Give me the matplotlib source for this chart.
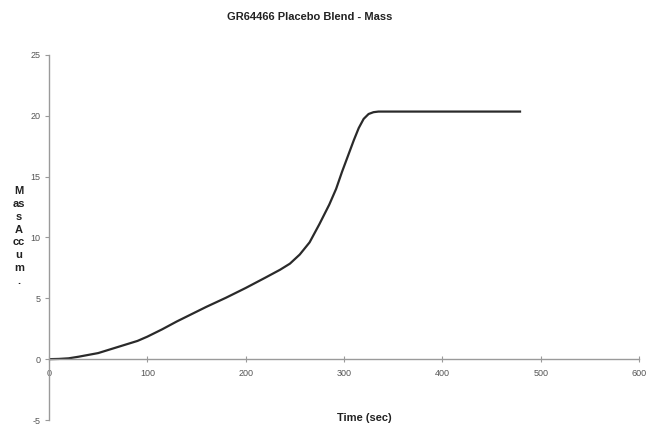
import matplotlib
matplotlib.use("Agg")
import matplotlib.pyplot as plt

# Data
time_sec = [0, 10, 20, 30, 40, 50, 60, 70, 80, 90, 100, 115, 130, 145, 160, 180, 200, 220, 235,
            245, 255, 265, 275, 285, 292, 298, 304, 310, 315, 320, 325, 330, 335, 340, 400, 479]
mass_accum = [0, 0.02, 0.07, 0.2, 0.35, 0.5, 0.75, 1.0, 1.25, 1.5, 1.85, 2.45, 3.1, 3.7, 4.3, 5.05, 5.85, 6.7, 7.35,
              7.85, 8.6, 9.6, 11.1, 12.7, 14.0, 15.4, 16.7, 18.0, 19.0, 19.75, 20.15, 20.3, 20.35, 20.35, 20.35, 20.35]
x_ticks = [0, 100, 200, 300, 400, 500, 600]
y_ticks = [-5, 0, 5, 10, 15, 20, 25]
title = "GR64466 Placebo Blend - Mass"
x_label = "Time (sec)"
y_label = "M\nas\ns\nA\ncc\nu\nm\n."

plt.rcParams['font.family'] = ['Liberation Sans', 'DejaVu Sans']
plt.rcParams['axes.unicode_minus'] = False

fig = plt.figure(figsize=(6.63, 4.30), dpi=100)
ax = fig.add_axes([49/663, 1-420/430, (639-49)/663, (420-55)/430])

ax.plot(time_sec, mass_accum, color='#2a2a2a', linewidth=1.6)

ax.set_xlim(0, 600)
ax.set_ylim(-5, 25)
ax.set_xticks(x_ticks)
ax.set_yticks(y_ticks)

for s in ['top', 'right']:
    ax.spines[s].set_visible(False)
ax.spines['bottom'].set_position(('data', 0))
ax.spines['left'].set_position(('data', 0))
for s in ['bottom', 'left']:
    ax.spines[s].set_color('#9a9a9a')
    ax.spines[s].set_linewidth(1.0)

ax.tick_params(axis='x', direction='inout', length=4, width=0.8, color='#9a9a9a',
               labelsize=6.5, labelcolor='#555555', pad=5)
ax.tick_params(axis='y', direction='out', length=3, width=0.8, color='#9a9a9a',
               labelsize=6.5, labelcolor='#555555', pad=3)

fig.text(310/663, 1-17/430, title, ha='center', va='center', fontsize=8, fontweight='bold', color='#222222')
fig.text(364/663, 1-418/430, x_label, ha='center', va='center', fontsize=8, fontweight='bold', color='#222222')
fig.text(19/663, 1-236/430, y_label, ha='center', va='center', fontsize=8, fontweight='bold',
         color='#222222', linespacing=1.35)

fig.savefig("out.png", dpi=100, facecolor='white')
